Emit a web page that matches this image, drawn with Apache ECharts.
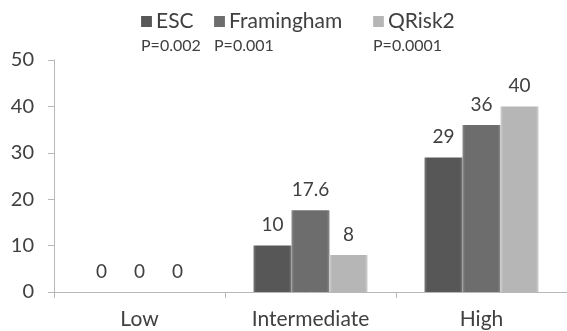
<!DOCTYPE html>
<html>
<head>
<meta charset="utf-8">
<script src="https://cdn.jsdelivr.net/npm/echarts@6/dist/echarts.min.js"></script>
<style>
html,body{margin:0;padding:0;background:#fff;}
#main{width:567px;height:331px;}
</style>
</head>
<body>
<div id="main"></div>
<script>
var categories = ["Low", "Intermediate", "High"];
var seriesNames = ["ESC", "Framingham", "QRisk2"];
var escData = [0, 10, 29];
var framinghamData = [0, 17.6, 36];
var qriskData = [0, 8, 40];
var pValues = ["P=0.002", "P=0.001", "P=0.0001"];
var yTicks = [0, 10, 20, 30, 40, 50];

var font = "Lato";
var colors = ["#575757", "#6d6d6d", "#b6b6b6"];
var legendX = [141, 214, 373];

function barColor(c, light){
	return {
		type: 'linear', x: 0, y: 0, x2: 1, y2: 0,
		colorStops: [
			{offset: 0, color: light},
			{offset: 0.07, color: c},
			{offset: 0.93, color: c},
			{offset: 1, color: light}
		]
	};
}

function makeSeries(name, data, i){
	var lights = ["#7a7a7a", "#8c8c8c", "#cfcfcf"];
	return {
		name: name,
		type: 'bar',
		data: data,
		barWidth: 38,
		barGap: '0%',
		itemStyle: {color: barColor(colors[i], lights[i])},
		label: {
			show: true,
			position: 'top',
			distance: 11,
			color: '#404040',
			fontFamily: font,
			fontSize: 19
		}
	};
}

var legends = [];
var pTexts = [];
for(var i=0;i<seriesNames.length;i++){
	legends.push({
		data: [seriesNames[i]],
		left: legendX[i] - 5,
		top: 6,
		itemWidth: 11,
		itemHeight: 11,
		icon: 'rect',
		selectedMode: false,
		textStyle: {fontFamily: font, fontSize: 21, color: '#404040', padding: [0, 0, 0, -1]}
	});
	pTexts.push({type: 'text', left: legendX[i], top: 38, style: {text: pValues[i], fontFamily: font, fontSize: 16, fill: '#404040'}});
}

var myChart = echarts.init(document.getElementById('main'));
var option = {
	animation: false,
	backgroundColor: '#fff',
	color: colors,
	legend: legends,
	graphic: pTexts,
	grid: {left: 54, top: 60, width: 516, height: 232, containLabel: false},
	xAxis: {
		type: 'category',
		data: categories,
		axisLine: {lineStyle: {color: '#b8b8b8'}},
		axisTick: {show: true, length: 6, lineStyle: {color: '#b8b8b8'}},
		axisLabel: {fontFamily: font, fontSize: 21, color: '#404040', margin: 17}
	},
	yAxis: {
		type: 'value',
		min: yTicks[0],
		max: yTicks[yTicks.length - 1],
		interval: 10,
		axisLine: {show: true, lineStyle: {color: '#b8b8b8'}},
		axisTick: {show: true, length: 6, lineStyle: {color: '#b8b8b8'}},
		splitLine: {show: false},
		axisLabel: {fontFamily: font, fontSize: 20, color: '#404040', margin: 20}
	},
	series: [
		makeSeries(seriesNames[0], escData, 0),
		makeSeries(seriesNames[1], framinghamData, 1),
		makeSeries(seriesNames[2], qriskData, 2)
	]
};
myChart.setOption(option);
</script>
</body>
</html>
